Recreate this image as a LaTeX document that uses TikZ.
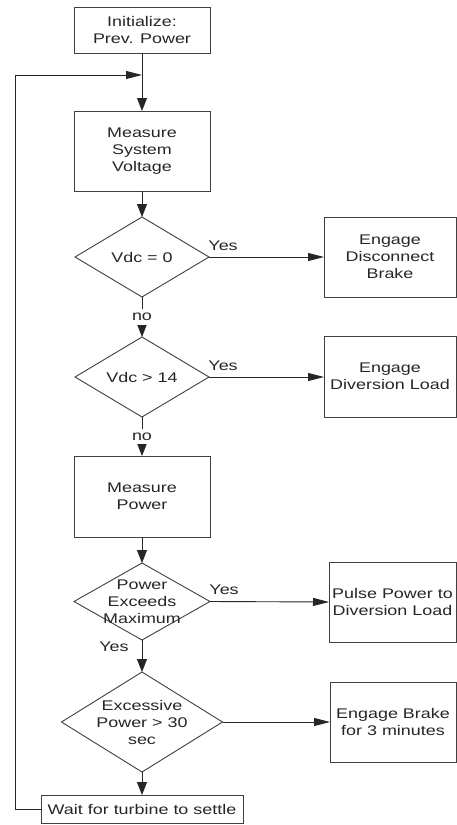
\documentclass[tikz,border=0pt]{standalone}
\usepackage{fontspec}
\setmainfont{Liberation Sans}[FakeStretch=1.28]
\usetikzlibrary{shapes.geometric,arrows.meta}
\begin{document}
\begin{tikzpicture}[x=1pt,y=-1pt,
  every node/.style={font=\fontsize{14}{17}\selectfont, text=black!85},
  box/.style={draw=black!75, line width=0.9pt, rectangle, inner sep=0pt, outer sep=0pt, align=center},
  dec/.style={draw=black!75, line width=0.9pt, diamond, inner sep=0pt, outer sep=0pt},
  dtext/.style={align=center, inner sep=0pt},
  conn/.style={draw=black!85, line width=0.9pt},
  varr/.style={conn, -{Triangle[length=13pt,width=10pt]}},
  harr/.style={conn, -{Triangle[length=16pt,width=8pt]}},
  lbl/.style={inner sep=0pt},
  gap/.style={fill=white, inner sep=4pt},
]
\fill[white] (0,0) rectangle (457,825);
\useasboundingbox (0,0) rectangle (457,825);

% main column
\node[box, minimum width=136pt, minimum height=46pt] (init) at (142,30) {Initialize:\\Prev. Power};
\node[box, minimum width=136pt, minimum height=80pt] (msv) at (142,151) {Measure\\System\\Voltage};
\node[dec, minimum width=134pt, minimum height=80pt] (d1) at (142,257) {};
\node[dtext] (d1t) at (d1) {Vdc = 0};
\node[dec, minimum width=134pt, minimum height=80pt] (d2) at (142,377) {};
\node[dtext] (d2t) at (d2) {Vdc > 14};
\node[box, minimum width=136pt, minimum height=81pt] (mp) at (142,496.5) {Measure\\Power};
\node[dec, minimum width=136pt, minimum height=77pt] (d3) at (142,601.5) {};
\node[dtext] (d3t) at (d3) {Power\\Exceeds\\Maximum};
\node[dec, minimum width=161pt, minimum height=100pt] (d4) at (142,722) {};
\node[dtext] (d4t) at (d4) {Excessive\\Power > 30\\sec};
\node[box, minimum width=202pt, minimum height=28pt] (wait) at (142,809) {Wait for turbine to settle};

% right column
\node[box, minimum width=132pt, minimum height=80pt] (edb) at (390,257) {Engage\\Disconnect\\Brake};
\node[box, minimum width=132pt, minimum height=81pt] (edl) at (390,376.5) {Engage\\Diversion Load};
\node[box, minimum width=127pt, minimum height=80pt] (ppdl) at (392.5,602) {Pulse Power to\\Diversion Load};
\node[box, minimum width=126pt, minimum height=80pt] (ebr) at (393,722) {Engage Brake\\for 3 minutes};

% connectors
\coordinate (j) at (142,75);
\coordinate (lc) at (15,75);
\draw[varr] (init) -- (msv);
\draw[harr] (wait.west) -| (lc) -- (j);
\draw[varr] (msv) -- (d1);
\draw[harr] (d1.east) -- node[lbl, pos=0, anchor=south west, xshift=-1pt, yshift=6pt] {Yes} (edb.west);
\draw[varr] (d1.south) -- node[gap] {no} (d2.north);
\draw[harr] (d2.east) -- node[lbl, pos=0, anchor=south west, xshift=-1pt, yshift=6pt] {Yes} (edl.west |- d2.east);
\draw[varr] (d2.south) -- node[gap] {no} (mp.north);
\draw[varr] (mp) -- (d3);
\draw[harr] (d3.east) -- node[lbl, pos=0, anchor=south west, xshift=-1pt, yshift=6pt] {Yes} (ppdl.west);
\draw[varr] (d3.south) -- node[lbl, pos=0, anchor=north east, xshift=-13pt, yshift=-1pt] {Yes} (d4.north);
\draw[harr] (d4.east) -- (ebr.west);
\draw[varr] (d4.south) -- (wait.north);
\end{tikzpicture}
\end{document}
